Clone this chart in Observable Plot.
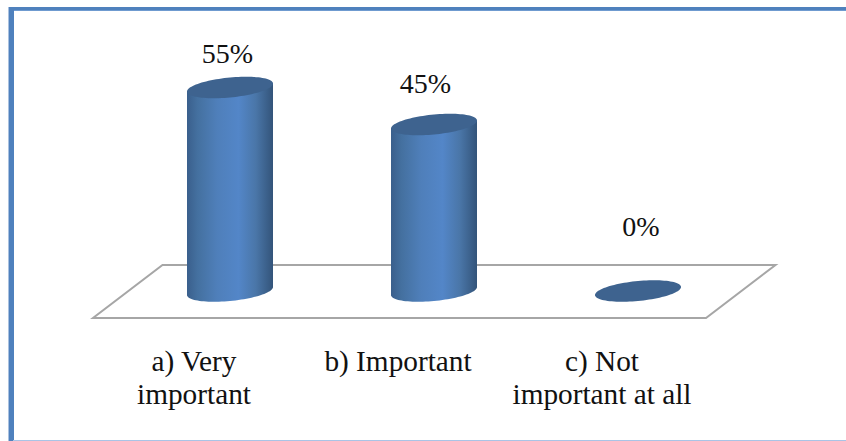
<!DOCTYPE html>
<html>
<head>
<meta charset="utf-8">
<script src="https://cdn.jsdelivr.net/npm/d3@7"></script>
<script src="https://cdn.jsdelivr.net/npm/@observablehq/plot@0.6"></script>
<style>
  html, body { margin: 0; padding: 0; background: #fff; }
  #chart { position: relative; width: 846px; height: 441px; overflow: hidden; }
  #chart svg { position: absolute; left: 0; top: 0; }
  .edge { position: absolute; }
  .edge.top { left: 9px; right: 0; top: 7px; height: 3px; background: #4f81bd; border-bottom: 1px solid #6f9bd0; }
  .edge.left { left: 8px; width: 5px; top: 7px; bottom: 0; background: #4f81bd; border-left: 1px solid #a9c1e0; }
  .edge.bottom { left: 13px; right: 0; bottom: 0; height: 1px; background: #a9c4e6; }
</style>
</head>
<body>
<div id="chart">
  <div class="edge top"></div>
  <div class="edge left"></div>
  <div class="edge bottom"></div>
</div>
<script>
const categories = ["a) Very\nimportant", "b) Important", "c) Not\nimportant at all"];
const shares = [55, 45, 0];
const rows = categories.map((category, i) => ({category, share: shares[i]}));

const SVG_NS = "http://www.w3.org/2000/svg";
const FONT = "'Liberation Serif', 'Times New Roman', serif";

// Cylinder cap: half-width, vertical lean and vertical half-thickness of the tilted ellipse.
const CAP_A = 43, CAP_LEAN = -4, CAP_B = 10;
// The columns sit further back on the floor than the category labels.
const DEPTH_SHIFT = 34;

function ellipsePoint(cx, cy, t) {
  return [cx + CAP_A * Math.cos(t), cy + CAP_LEAN * Math.cos(t) + CAP_B * Math.sin(t)];
}

function ellipseArc(cx, cy, from, to, steps = 48) {
  return d3.range(steps + 1).map((k) => ellipsePoint(cx, cy, from + (to - from) * k / steps));
}

function svgEl(name, attrs) {
  const el = document.createElementNS(SVG_NS, name);
  for (const [k, v] of Object.entries(attrs)) el.setAttribute(k, v);
  return el;
}

// Horizontal shading that gives the column body its rounded look.
function shading() {
  const defs = svgEl("defs", {});
  const grad = svgEl("linearGradient", {id: "column-shade", x1: 0, x2: 1, y1: 0, y2: 0});
  [[0, "#3a5f8c"], [0.12, "#44709f"], [0.35, "#4f7fba"], [0.6, "#5386c8"], [0.8, "#4a76a8"], [1, "#33547a"]]
    .forEach(([offset, color]) => grad.appendChild(svgEl("stop", {offset, "stop-color": color})));
  defs.appendChild(grad);
  return defs;
}

// Floor parallelogram around the baseline of the value scale.
function floor(index, scales) {
  const [x0, x1] = scales.x.range();
  const y0 = scales.y(0);
  const front = y0 + 27, back = y0 - 26, slant = 69.5;
  const pts = [[x0, front], [x1, front], [x1 + slant, back], [x0 + slant, back]];
  return svgEl("path", {
    d: d3.line()(pts) + "Z",
    fill: "#fff",
    stroke: "#a6a6a6",
    "stroke-width": 2,
    "stroke-linejoin": "miter"
  });
}

// Each bar is drawn as a cylinder, with its size taken from the x and y scales.
function cylinder(index, scales) {
  const g = svgEl("g", {});
  for (const i of index) {
    const {category, share} = rows[i];
    const cx = scales.x(category) + scales.x.bandwidth() / 2 + DEPTH_SHIFT;
    const base = scales.y(0), top = scales.y(share);
    if (share > 0) {
      const lower = ellipseArc(cx, base, Math.PI, 0);
      const body = [ellipsePoint(cx, top, Math.PI), ...lower, ellipsePoint(cx, top, 0)];
      g.appendChild(svgEl("path", {d: d3.line()(body) + "Z", fill: "url(#column-shade)"}));
    }
    g.appendChild(svgEl("path", {
      d: d3.line()(ellipseArc(cx, top, 0, 2 * Math.PI, 96)) + "Z",
      fill: "#3e638f"
    }));
  }
  return g;
}

// Value labels float at slightly different distances above each column.
const labelNudge = [[31, -25], [25, -32], [36.5, -56]];
const valueLabels = rows.map((row, i) =>
  Plot.text([row], {
    x: "category",
    y: "share",
    text: (d) => `${d.share}%`,
    dx: labelNudge[i][0],
    dy: labelNudge[i][1],
    lineAnchor: "bottom",
    fontSize: 28,
    fontFamily: FONT,
    fill: "#111"
  })
);

const chart = Plot.plot({
  width: 846,
  height: 441,
  marginLeft: 93,
  marginRight: 140,
  marginTop: 69,
  marginBottom: 150,
  style: {background: "transparent", fontFamily: FONT},
  x: {type: "band", domain: categories, padding: 0, axis: null},
  y: {domain: [0, 60], axis: null},
  marks: [
    shading,
    floor,
    Plot.barY(rows, {x: "category", y: "share", render: cylinder}),
    ...valueLabels,
    Plot.axisX({
      domain: categories,
      anchor: "bottom",
      label: null,
      tickSize: 0,
      tickPadding: 56,
      dx: -2.5,
      fontSize: 29.3,
      lineHeight: 1.13,
      fontFamily: FONT,
      fill: "#111",
      tickFormat: (d) => d
    })
  ]
});
document.getElementById("chart").appendChild(chart);
</script>
</body>
</html>
